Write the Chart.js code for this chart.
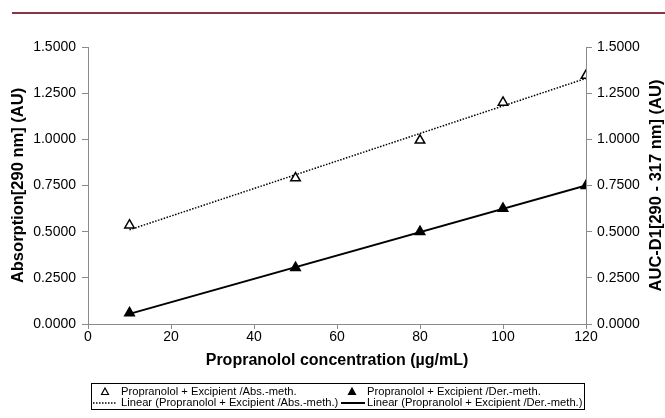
<!DOCTYPE html>
<html>
<head>
<meta charset="utf-8">
<script src="https://cdn.jsdelivr.net/npm/chart.js@4"></script>
<style>
  html, body { margin: 0; padding: 0; background: #fff; }
  #wrap { width: 665px; height: 418px; }
</style>
</head>
<body>
<div id="wrap"><canvas id="calChart" width="665" height="418"></canvas></div>
<script>
// Concentrations (µg/mL)
const concentrations = [10, 50, 80, 100, 120];
// Absorption at 290 nm (left axis)
const absValues = [0.535, 0.79, 0.995, 1.20, 1.345];
// AUC of first derivative 290-317 nm (right axis)
const derValues = [0.06, 0.305, 0.50, 0.625, 0.749];
// Trend line end points
const absTrendX = [10, 120];
const absTrendY = [0.51, 1.33];
const derTrendX = [10, 120];
const derTrendY = [0.055, 0.75];
const xTicks = [0, 20, 40, 60, 80, 100, 120];
const yTicks = [0, 0.25, 0.5, 0.75, 1.0, 1.25, 1.5];

const seriesLabels = [
    "Propranolol + Excipient /Abs.-meth.",
    "Propranolol + Excipient /Der.-meth.",
    "Linear (Propranolol + Excipient /Abs.-meth.)",
    "Linear (Propranolol + Excipient /Der.-meth.)"
];
const rightTitle = "AUC-D1[290 - 317 nm] (AU)";

function toPoints(xs, ys) {
    return xs.map((x, i) => ({ x, y: ys[i] }));
}

const FONT = "'Liberation Sans', Arial, sans-serif";
const TITLE_SIZE = 16.5;

// top rule, right axis title and boxed legend drawn on the canvas
const decorPlugin = {
    id: "decor",
    beforeDraw(chart) {
        const ctx = chart.ctx;
        ctx.save();
        ctx.fillStyle = "#fff";
        ctx.fillRect(0, 0, chart.width, chart.height);
        ctx.fillStyle = "#8c3346";
        ctx.fillRect(12, 12, chart.width - 12, 2);
        ctx.restore();
    },
    afterDraw(chart) {
        const ctx = chart.ctx;
        const ds = chart.data.datasets;
        const area = chart.chartArea;
        ctx.save();

        // right axis title, reading bottom to top like the left one
        ctx.save();
        ctx.translate(656, (area.top + area.bottom) / 2);
        ctx.rotate(-Math.PI / 2);
        ctx.font = "bold " + TITLE_SIZE + "px " + FONT;
        ctx.fillStyle = "#000";
        ctx.textAlign = "center";
        ctx.textBaseline = "middle";
        ctx.fillText(rightTitle, 0, 0);
        ctx.restore();

        // legend
        ctx.strokeStyle = "#000";
        ctx.lineWidth = 1;
        ctx.strokeRect(91.5, 383.5, 493, 26);
        ctx.font = "11.2px " + FONT;
        ctx.fillStyle = "#000";
        ctx.textBaseline = "middle";
        const rows = [391.5, 402.5];
        const textX = [121, 367];
        [0, 1].forEach(i => {
            const cx = i === 0 ? 105 : 352;
            const cy = rows[0];
            ctx.beginPath();
            ctx.moveTo(cx, cy - 3.5);
            ctx.lineTo(cx + 3.5, cy + 3);
            ctx.lineTo(cx - 3.5, cy + 3);
            ctx.closePath();
            ctx.fillStyle = ds[i].backgroundColor;
            ctx.fill();
            ctx.lineWidth = 1.2;
            ctx.strokeStyle = "#000";
            ctx.stroke();
            ctx.fillStyle = "#000";
            ctx.fillText(ds[i].label, textX[i], cy);
        });
        [2, 3].forEach((i, k) => {
            const cy = rows[1];
            ctx.beginPath();
            ctx.setLineDash(ds[i].borderDash || []);
            ctx.lineWidth = ds[i].borderWidth;
            ctx.strokeStyle = ds[i].borderColor;
            const x0 = k === 0 ? 93 : 341;
            ctx.moveTo(x0, cy + 0.5);
            ctx.lineTo(x0 + 24, cy + 0.5);
            ctx.stroke();
            ctx.setLineDash([]);
            ctx.fillText(ds[i].label, textX[k], cy);
        });
        ctx.restore();
    }
};

const axisGrey = "#8a8a8a";
const tickFont = { family: FONT, size: 14 };

new Chart(document.getElementById("calChart"), {
    type: "scatter",
    data: {
        datasets: [
            {
                label: seriesLabels[0],
                data: toPoints(concentrations, absValues),
                yAxisID: "y",
                pointStyle: "triangle",
                pointRadius: 5.5,
                borderColor: "#000",
                backgroundColor: "#fff",
                borderWidth: 1.5,
                showLine: false
            },
            {
                label: seriesLabels[1],
                data: toPoints(concentrations, derValues),
                yAxisID: "y1",
                pointStyle: "triangle",
                pointRadius: 5.5,
                borderColor: "#000",
                backgroundColor: "#000",
                borderWidth: 1.5,
                showLine: false
            },
            {
                label: seriesLabels[2],
                data: toPoints(absTrendX, absTrendY),
                yAxisID: "y",
                showLine: true,
                borderColor: "#000",
                borderWidth: 1.5,
                borderDash: [1.5, 1.5],
                pointRadius: 0
            },
            {
                label: seriesLabels[3],
                data: toPoints(derTrendX, derTrendY),
                yAxisID: "y1",
                showLine: true,
                borderColor: "#000",
                borderWidth: 2,
                pointRadius: 0
            }
        ]
    },
    options: {
        responsive: false,
        animation: false,
        layout: { padding: { top: 47, bottom: 48, left: 0, right: 0 } },
        plugins: {
            legend: { display: false },
            tooltip: { enabled: false }
        },
        scales: {
            x: {
                type: "linear",
                min: 0,
                max: 120,
                afterBuildTicks: s => { s.ticks = xTicks.map(v => ({ value: v })); },
                afterFit: s => { s.height = 46; },
                border: { color: axisGrey },
                grid: { drawOnChartArea: false, tickLength: 5, color: axisGrey },
                ticks: { color: "#000", font: tickFont, padding: 0, maxRotation: 0 },
                title: {
                    display: true,
                    text: "Propranolol concentration (µg/mL)",
                    color: "#000",
                    font: { family: FONT, size: 16, weight: "bold" },
                    padding: { top: 0, bottom: 0 }
                }
            },
            y: {
                position: "left",
                min: 0,
                max: 1.5,
                afterBuildTicks: s => { s.ticks = yTicks.map(v => ({ value: v })); },
                afterFit: s => { s.width = 88; },
                border: { color: axisGrey },
                grid: { drawOnChartArea: false, tickLength: 6, color: axisGrey },
                ticks: {
                    color: "#000",
                    font: tickFont,
                    padding: 6,
                    callback: v => v.toFixed(4)
                },
                title: {
                    display: true,
                    text: "Absorption[290 nm] (AU)",
                    color: "#000",
                    font: { family: FONT, size: TITLE_SIZE, weight: "bold" },
                    padding: { top: 8.6, bottom: 0 }
                }
            },
            y1: {
                position: "right",
                min: 0,
                max: 1.5,
                afterBuildTicks: s => { s.ticks = yTicks.map(v => ({ value: v })); },
                afterFit: s => { s.width = 79; },
                border: { color: axisGrey },
                grid: { drawOnChartArea: false, tickLength: 6, color: axisGrey },
                ticks: {
                    color: "#000",
                    font: tickFont,
                    padding: 5,
                    callback: v => v.toFixed(4)
                },
                title: { display: false }
            }
        }
    },
    plugins: [decorPlugin]
});
</script>
</body>
</html>
